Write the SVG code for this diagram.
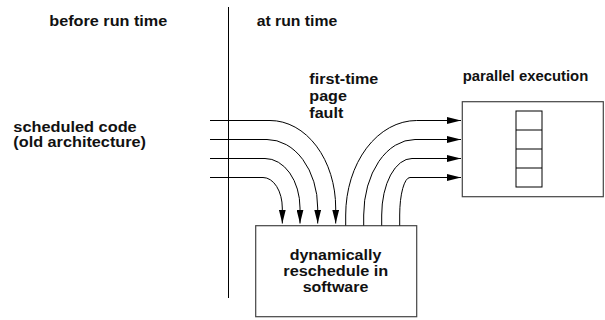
<svg xmlns="http://www.w3.org/2000/svg" width="605" height="320" viewBox="0 0 605 320">
  <style>
    .lbl { font-family: "Liberation Sans", Arial, Helvetica, sans-serif; font-size: 14px; font-weight: bold; fill: #111; }
    .mid { text-anchor: middle; }
    .box { fill: #fff; stroke: #444; stroke-width: 1.2; }
    .cell { fill: #fff; stroke: #000; stroke-width: 1; }
    .wire { fill: none; stroke: #000; stroke-width: 1; }
    .wire-in { marker-end: url(#arrow); }
  </style>
  <defs>
    <marker id="arrow" viewBox="0 0 14 7" markerWidth="14" markerHeight="7" markerUnits="userSpaceOnUse" refX="14" refY="3.5" orient="auto">
      <path d="M0,0 L14,3.5 L0,7 z" fill="#000"/>
    </marker>
  </defs>
  <rect width="605" height="320" fill="#fff"/>

  <!-- divider between the two phases -->
  <g id="divider">
    <line x1="228.5" y1="7" x2="228.5" y2="298" stroke="#000" stroke-width="1"/>
    <text class="lbl" x="49.3" y="26" textLength="118" lengthAdjust="spacingAndGlyphs">before run time</text>
    <text class="lbl" x="256.7" y="26" textLength="80.6" lengthAdjust="spacingAndGlyphs">at run time</text>
  </g>

  <g id="scheduled-code">
    <text class="lbl" x="13.3" y="131.7" textLength="123.4" lengthAdjust="spacingAndGlyphs">scheduled code</text>
    <text class="lbl" x="13.3" y="147" textLength="132.7" lengthAdjust="spacingAndGlyphs">(old architecture)</text>
  </g>

  <g id="page-fault">
    <text class="lbl" x="309.3" y="84" textLength="69" lengthAdjust="spacingAndGlyphs">first-time</text>
    <text class="lbl" x="309.3" y="101" textLength="37.6" lengthAdjust="spacingAndGlyphs">page</text>
    <text class="lbl" x="309.3" y="118" textLength="34" lengthAdjust="spacingAndGlyphs">fault</text>
  </g>

  <g id="reschedule">
    <rect class="box" x="255.7" y="225.7" width="161" height="91"/>
    <text class="lbl mid" x="335.5" y="260" textLength="91.7" lengthAdjust="spacingAndGlyphs">dynamically</text>
    <text class="lbl mid" x="335.8" y="276" textLength="105" lengthAdjust="spacingAndGlyphs">reschedule in</text>
    <text class="lbl mid" x="335.5" y="292" textLength="65.6" lengthAdjust="spacingAndGlyphs">software</text>
  </g>

  <g id="parallel-execution">
    <text class="lbl" x="462.7" y="80.5" textLength="125.6" lengthAdjust="spacingAndGlyphs">parallel execution</text>
    <rect class="box" x="462.3" y="101.7" width="141" height="95"/>
    <rect class="cell" x="516" y="111" width="26" height="76"/>
    <line class="cell" x1="516" y1="130" x2="542" y2="130"/>
    <line class="cell" x1="516" y1="149" x2="542" y2="149"/>
    <line class="cell" x1="516" y1="168" x2="542" y2="168"/>
  </g>

  <g id="connectors">
    <!-- instruction streams into the rescheduler -->
    <path class="wire wire-in" d="M210,120.5 H270 A65.7,87.5 0 0 1 335.7,208 V223.5"/>
    <path class="wire wire-in" d="M210,139.5 H267 A50.7,68.5 0 0 1 317.7,208 V223.5"/>
    <path class="wire wire-in" d="M210,158.5 H265 A35,49.5 0 0 1 300,208 V223.5"/>
    <path class="wire wire-in" d="M210,177.5 H263 A19.3,30.5 0 0 1 282.3,208 V223.5"/>
    <!-- rescheduled streams out to the parallel units -->
    <path class="wire wire-in" d="M345.7,225.5 V215 A71,94.5 0 0 1 416.7,120.5 H461"/>
    <path class="wire wire-in" d="M363.7,225.5 V215 A51.3,75.5 0 0 1 415,139.5 H461"/>
    <path class="wire wire-in" d="M381.7,225.5 V215 A30.3,56.5 0 0 1 412,158.5 H461"/>
    <path class="wire wire-in" d="M399.7,225.5 V215 A10.3,37.5 0 0 1 410,177.5 H461"/>
  </g>
</svg>
